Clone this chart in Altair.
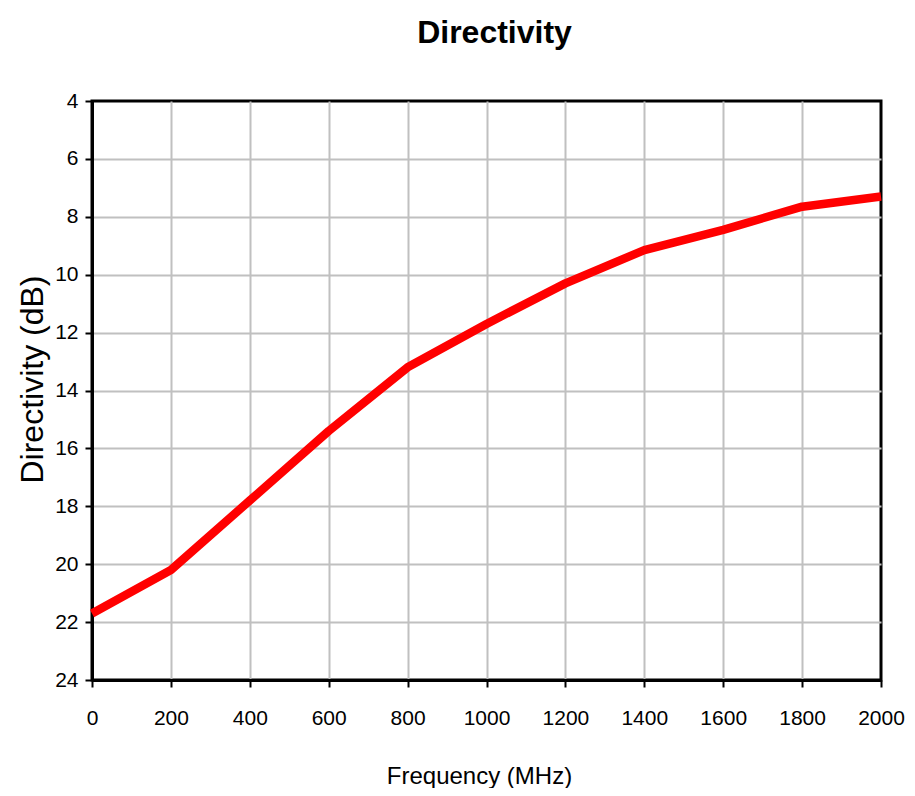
import altair as alt
import pandas as pd

freq = [0, 200, 400, 600, 800, 1000, 1200, 1400, 1600, 1800, 2000]
directivity = [21.7, 20.2, 17.8, 15.4, 13.2, 11.7, 10.3, 9.15, 8.45, 7.65, 7.3]
x_ticks = [0, 200, 400, 600, 800, 1000, 1200, 1400, 1600, 1800, 2000]
y_ticks = [4, 6, 8, 10, 12, 14, 16, 18, 20, 22, 24]

df = pd.DataFrame({"f": freq, "d": directivity})

REG = "Liberation Sans, Arial, sans-serif"

common_axis = dict(
    labelFont=REG, labelFontSize=21, labelColor="black",
    labelOverlap=False, labelFlush=False, format="d",
    tickSize=7, tickWidth=2, tickColor="black",
    domainColor="black", domainWidth=3,
    grid=True, gridColor="#c0c0c0", gridWidth=2,
    titleColor="black", titleFontWeight="normal", titleFont=REG,
)

chart = alt.Chart(df).mark_line(
    color="#ff0000", strokeWidth=8.5, strokeJoin="round"
).encode(
    x=alt.X("f:Q",
            scale=alt.Scale(domain=[0, 2000], nice=False, zero=False),
            axis=alt.Axis(values=x_ticks, title="Frequency (MHz)",
                          labelPadding=20, titleFontSize=24,
                          titleX=387, titleY=96, titleBaseline="middle",
                          titleAlign="center",
                          gridOpacity={"condition": {"test": "datum.value == 0 || datum.value == 2000", "value": 0}, "value": 1},
                          **common_axis)),
    y=alt.Y("d:Q",
            scale=alt.Scale(domain=[4, 24], reverse=True, nice=False, zero=False),
            axis=alt.Axis(values=y_ticks, title="Directivity (dB)",
                          labelPadding=7, titleFontSize=32,
                          titleX=-60, titleY=278, titleBaseline="middle",
                          titleAlign="center", titleAngle=270,
                          gridOpacity={"condition": {"test": "datum.value == 4 || datum.value == 24", "value": 0}, "value": 1},
                          **common_axis)),
).properties(
    width=789, height=579,
    autosize=alt.AutoSizeParams(type="none"),
    padding={"left": 84, "top": 93, "right": 26, "bottom": 108},
    title=alt.Title("Directivity", font=REG, fontSize=32, fontWeight="bold",
                    anchor="middle", baseline="alphabetic", offset=15, dx=8,
                    color="black"),
).configure_view(stroke="black", strokeWidth=3)

chart.save("out.html", embed_options={"renderer": "svg", "actions": False})
